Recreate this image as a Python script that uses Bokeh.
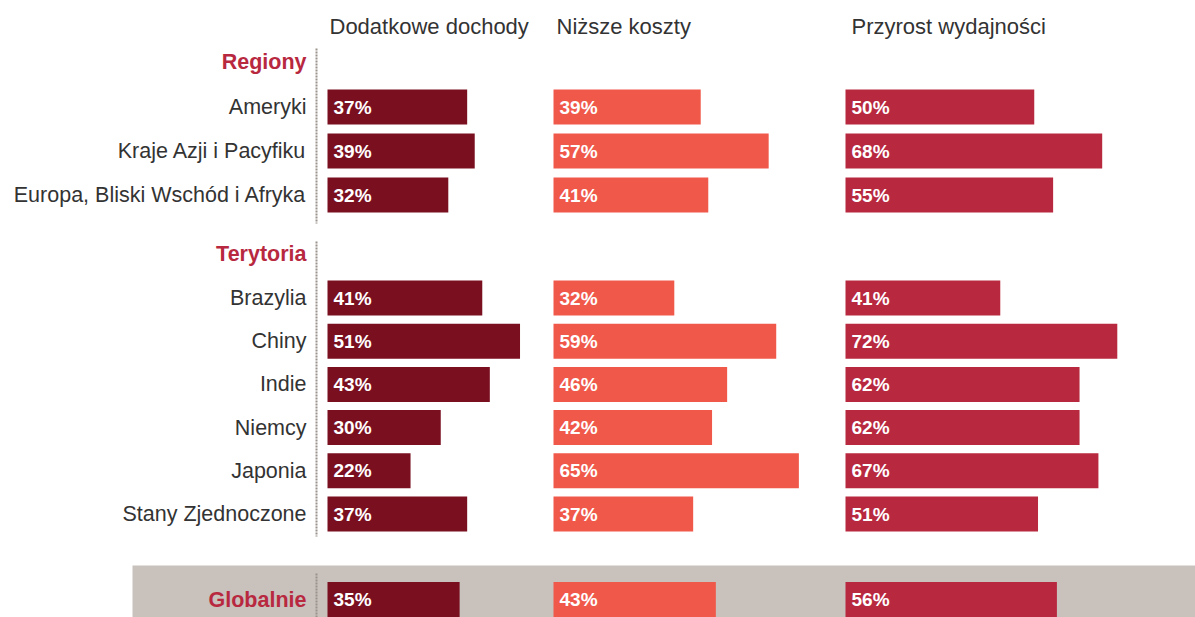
from bokeh.plotting import figure
from bokeh.models import Range1d, ColumnDataSource
from bokeh.core.properties import value
from bokeh.embed import file_html
from bokeh.resources import INLINE

# ---- data ----
region_labels = ["Ameryki", "Kraje Azji i Pacyfiku", "Europa, Bliski Wschód i Afryka"]
territory_labels = ["Brazylia", "Chiny", "Indie", "Niemcy", "Japonia", "Stany Zjednoczone"]
global_label = "Globalnie"
group_titles = ["Regiony", "Terytoria"]
series_names = ["Dodatkowe dochody", "Niższe koszty", "Przyrost wydajności"]

dodatkowe = [37, 39, 32, 41, 51, 43, 30, 22, 37, 35]
nizsze = [39, 57, 41, 32, 59, 46, 42, 65, 37, 43]
przyrost = [50, 68, 55, 41, 72, 62, 62, 67, 51, 56]

# ---- layout / style ----
W, H = 1195, 617
SCALE = 3.775           # px per percent
col_start = [327, 553, 845]
header_x = [329, 556, 851]
col_colors = ["#7A0F20", "#F0584A", "#B8283F"]
red_text = "#B8283F"
dark_text = "#333333"
FONT = "Liberation Sans"
BAR_H = 35

# row centres
reg_y0, reg_step = 106.5, 44.0
ter_y0, ter_step = 297.5, 43.2
glob_y = 599
row_y = [reg_y0 + reg_step * i for i in range(len(region_labels))] + \
        [ter_y0 + ter_step * i for i in range(len(territory_labels))] + [glob_y]
row_labels = region_labels + territory_labels

p = figure(width=W, height=H, output_backend="svg", toolbar_location=None,
           x_range=Range1d(0, W), y_range=Range1d(H, 0), min_border=0,
           outline_line_color=None, background_fill_color="white")
p.axis.visible = False
p.grid.visible = False

# grey band for global row
p.quad(left=132, right=W, top=565, bottom=H + 5, fill_color="#C8C1BC", line_color=None)

# dotted separators
sep_x = 316
for (y0, y1) in [(48, 223), (241, 536), (573, H)]:
    p.line([sep_x, sep_x], [y0, y1], line_color="#9A928B", line_width=2, line_dash="2 1")

# bars
for ci, vals in enumerate([dodatkowe, nizsze, przyrost]):
    src = ColumnDataSource(dict(
        y=row_y,
        left=[col_start[ci]] * len(vals),
        right=[col_start[ci] + v * SCALE for v in vals],
        lx=[col_start[ci] + 6] * len(vals),
        lab=[f"{v}%" for v in vals],
    ))
    p.hbar(y="y", left="left", right="right", height=BAR_H, fill_color=col_colors[ci],
           line_color=None, source=src)
    p.text(x="lx", y="y", text="lab", source=src, text_color="white",
           text_font=value(FONT), text_font_style="bold", text_font_size="19px",
           text_baseline="middle", text_align="left")

# column headers
p.text(x=header_x, y=[26] * 3, text=series_names, text_color=dark_text,
       text_font=value(FONT), text_font_size="22px", text_baseline="middle", text_align="left")

# row labels
p.text(x=[306] * len(row_labels), y=row_y[:-1], text=row_labels, text_color=dark_text,
       text_font=value(FONT), text_font_size="21.5px", text_baseline="middle", text_align="right")

# group titles + global label
p.text(x=[306] * 3, y=[61, 253, glob_y], text=group_titles + [global_label], text_color=red_text,
       text_font=value(FONT), text_font_style="bold", text_font_size="21.5px",
       text_baseline="middle", text_align="right")

open("out.html", "w").write(file_html(p, INLINE))
